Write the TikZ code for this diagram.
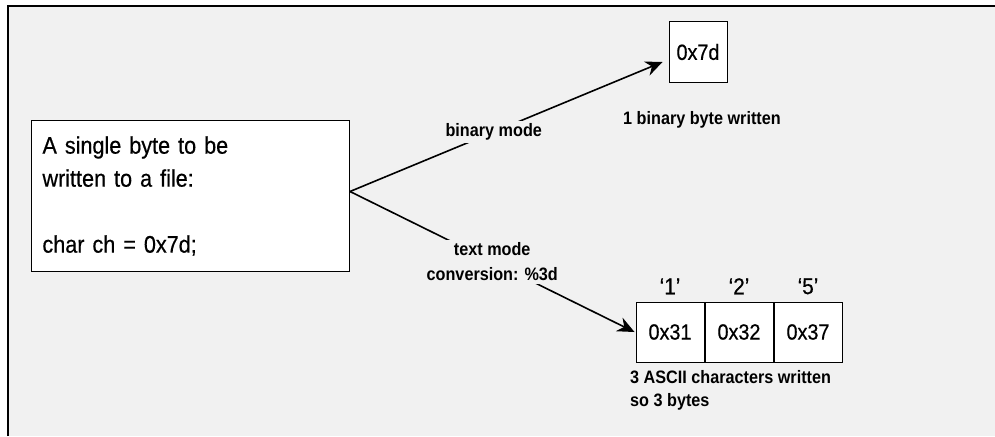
\documentclass[tikz,border=0pt]{standalone}
\usepackage{fontspec}
\setmainfont{Liberation Sans}[FakeStretch=0.9, UprightFeatures={FakeBold=0.5}]
\usetikzlibrary{arrows.meta, positioning}
\definecolor{panel}{HTML}{F1F1F1}

\begin{document}
\begin{tikzpicture}[
      x=1pt, y=-1pt,
      box/.style={draw, fill=white, line width=1pt},
      byte/.style={box, minimum width=68pt, minimum height=60pt, inner sep=0pt, font=\fontsize{22}{28}\selectfont},
      quote/.style={font=\fontsize{23}{28}\selectfont, inner sep=0pt},
      note/.style={font=\bfseries\fontsize{18}{23}\selectfont, align=left, inner sep=0pt},
      modelabel/.style={fill=panel, inner sep=3pt, font=\bfseries\fontsize{18}{25}\selectfont, align=center},
      edge/.style={-{Stealth[length=17pt, width=15pt]}, line width=1.6pt}
    ]
    \useasboundingbox (0,0) rectangle (995,436);
    \fill[panel] (8,6) rectangle (995,436);
    \draw[line width=1.2pt] (8,436) -- (8,6) -- (995,6);

    \node[box, anchor=north west, minimum width=318pt, minimum height=151pt,
          text width=296pt, inner xsep=11pt, align=left,
          font=\fontsize{24}{33}\selectfont] (src) at (31,120)
          {A single byte to be\\written to a file:\\[33pt]char ch = 0x7d;};
    \coordinate (fork) at ([yshift=4.5pt]src.east);

    \node[box, minimum width=58pt, minimum height=60pt, font=\fontsize{22}{28}\selectfont] (bin) at (698,52) {0x7d};
    \node[note, anchor=west] (binnote) at (623,120) {1 binary byte written};

    \node[byte] (b1) at (670,332) {0x31};
    \node[byte, right=0pt of b1] (b2) {0x32};
    \node[byte, right=0pt of b2] (b3) {0x37};
    \node[quote, above=7pt of b1] (q1) {‘1’};
    \node[quote, above=7pt of b2] (q2) {‘2’};
    \node[quote, above=7pt of b3] (q3) {‘5’};
    \node[note, anchor=north west] (ascii) at (630,370) {3 ASCII characters written\\so 3 bytes};

    \draw[edge] (fork) -- node[modelabel, pos=0.46] {binary mode} ([xshift=-6pt, yshift=-10pt]bin.west);
    \draw[edge] (fork) -- node[modelabel, pos=0.5] {text mode\\conversion: \%3d} ([xshift=-1pt]b1.west);
    \end{tikzpicture}
\end{document}
